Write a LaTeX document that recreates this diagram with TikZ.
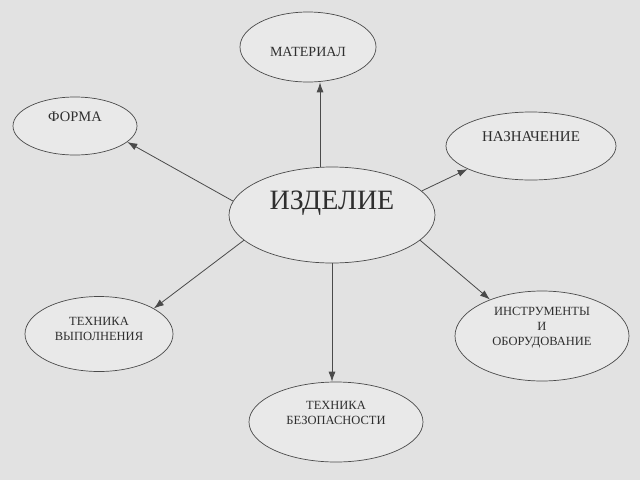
\documentclass[tikz,border=0pt]{standalone}
\usepackage{fontspec}
\setmainfont{Liberation Serif}
\usepackage{tikz}
\usetikzlibrary{arrows.meta, shapes.geometric}
\definecolor{bgcol}{HTML}{E2E2E2}
\definecolor{ellcol}{HTML}{E9E9E9}
\definecolor{linecol}{HTML}{4A4A4A}
\definecolor{txtcol}{HTML}{2E2E2E}
\newcommand{\lift}[2]{\raisebox{#1}[\height][\depth]{\begin{tabular}{@{}c@{}}#2\end{tabular}}}
\newcommand{\fs}[1]{\fontsize{#1}{15}\selectfont}
\tikzset{
	oval/.style={ellipse, draw=linecol, fill=ellcol, line width=0.7pt, inner sep=0pt, text=txtcol, font=\fs{12.5}},
	link/.style={->, draw=linecol, line width=0.8pt}
}

\begin{document}
\begin{tikzpicture} [x=1pt, y=-1pt, >={Latex[length=10pt, width=7pt]}]
		%\draw [help lines] (0,0) grid (640,480);
		\fill[bgcol] (0,0) rectangle (640,480);
		\node[oval, minimum width=206pt, minimum height=96pt, font=\fontsize{28}{30}\selectfont] (izd) at (332,215) {\lift{12pt}{ИЗДЕЛИЕ}};
		\node[oval, minimum width=136pt, minimum height=70pt, font=\fs{14}] (mat) at (308,47) {\lift{-6pt}{МАТЕРИАЛ}};
		\node[oval, minimum width=124pt, minimum height=58pt, font=\fs{14.5}] (forma) at (75,126) {\lift{8pt}{ФОРМА}};
		\node[oval, minimum width=170pt, minimum height=68pt, font=\fs{15}] (nazn) at (531,146) {\lift{8pt}{НАЗНАЧЕНИЕ}};
		\node[oval, minimum width=148pt, minimum height=75pt] (vyp) at (99,334) {\lift{4pt}{ТЕХНИКА\\ВЫПОЛНЕНИЯ}};
		\node[oval, minimum width=174pt, minimum height=80pt] (bez) at (336,422) {\lift{8pt}{ТЕХНИКА\\БЕЗОПАСНОСТИ}};
		\node[oval, minimum width=174pt, minimum height=90pt] (instr) at (542,336) {\lift{9pt}{ИНСТРУМЕНТЫ\\И\\ОБОРУДОВАНИЕ}};
		\draw[link] (izd.104) -- (izd.104 |- mat.south);
		\draw[link] (izd.172) -- (forma.-17);
		\draw[link] (izd.15) -- (nazn.200);
		\draw[link] (izd.-16) -- (instr.145);
		\draw[link] (izd.196) -- (vyp.25);
		\draw[link] (izd.south) -- (izd.south |- bez.north);
	\end{tikzpicture}
\end{document}
